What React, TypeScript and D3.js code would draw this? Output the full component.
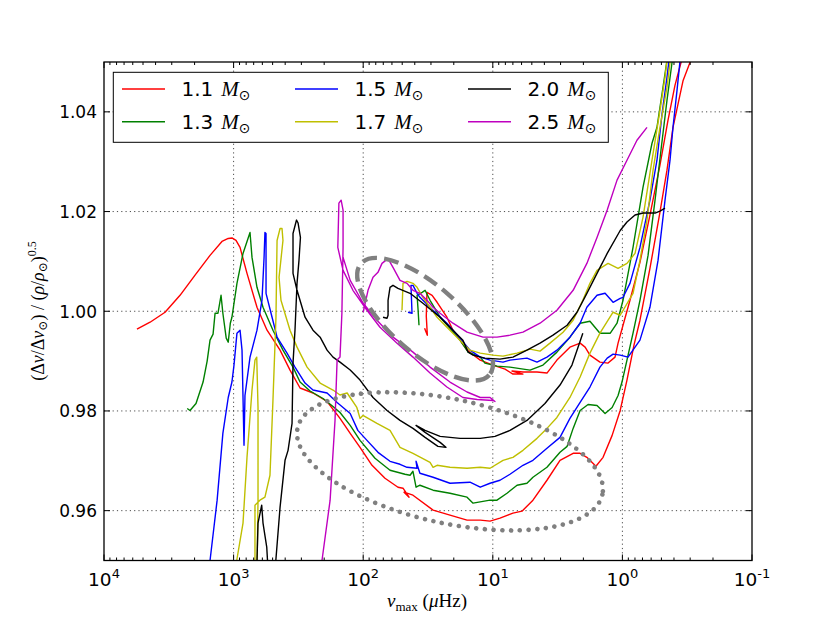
import React from 'react';
import * as d3 from 'd3';

type P = [number, number];

const masses = ['1.1', '1.3', '1.5', '1.7', '2.0', '2.5'];
const massColors = ['#ff0000', '#008000', '#0000ff', '#bfbf00', '#000000', '#bf00bf'];

// [nu_max (muHz), (dnu/dnu_sun)/(rho/rho_sun)^0.5]
const m11Rgb: P[] = [[5570,0.9964],[4410,0.9978],[3380,0.9998],[2590,1.0032],[1990,1.0072],[1520,1.0112],[1230,1.0140],[1100,1.0146],[1030,1.0147],[958,1.0142],[892,1.0128],[788,1.0076],[660,1.0008],[552,0.9962],[438,0.9922],[367,0.9882],[307,0.9846],[244,0.9836],[190,0.9819],[151,0.9785],[126,0.9755],[105.8,0.9727],[85.5,0.9691],[67.9,0.9665],[53.9,0.9647],[49.3,0.9645],[44.3,0.9627],[48.4,0.9637],[41.3,0.9631],[28.9,0.9601],[21.4,0.9591],[15.8,0.9581],[12.5,0.9581],[10.5,0.9579],[8.80,0.9585],[6.99,0.9595],[5.95,0.9599],[4.90,0.9621],[3.82,0.9661],[3.03,0.9701],[2.40,0.9715],[2.12,0.9715],[1.88,0.9707],[1.60,0.9689],[1.41,0.9707],[1.20,0.9751],[1.04,0.9801],[0.922,0.9862],[0.814,0.9932],[0.732,0.9982],[0.613,1.0086],[0.513,1.0199],[0.453,1.0283],[0.407,1.0369],[0.340,1.0463],[0.301,1.0499],[0.266,1.0523]];
const m11Clump: P[] = [[33.6,0.9966],[32.0,0.9952],[32.6,0.9990],[32.2,1.0038],[29.4,1.0032],[26.9,1.0018],[22.6,0.9988],[20.3,0.9962],[17.9,0.9942],[15.8,0.9922],[12.5,0.9902],[9.97,0.9892],[8.05,0.9884],[6.99,0.9874],[5.85,0.9874],[7.11,0.9880],[5.85,0.9878],[4.56,0.9878],[3.82,0.9876],[3.20,0.9902],[2.54,0.9928],[2.12,0.9936],[1.94,0.9928],[1.78,0.9912],[1.49,0.9898],[1.29,0.9896],[1.14,0.9908],[1.08,0.9936],[0.989,0.9972],[0.874,1.0022],[0.732,1.0098],[0.613,1.0193],[0.513,1.0293],[0.445,1.0383],[0.393,1.0453],[0.353,1.0499],[0.323,1.0527]];

const m13Rgb: P[] = [[2280,0.9805],[2170,0.9801],[1950,0.9815],[1720,0.9858],[1600,0.9900],[1520,0.9942],[1440,0.9954],[1390,0.9996],[1320,0.9996],[1250,1.0032],[1210,0.9996],[1140,0.9946],[1100,0.9938],[1060,0.9976],[1030,0.9988],[942,1.0056],[846,1.0116],[747,1.0158],[721,1.0108],[660,1.0048],[593,1.0008],[497,0.9962],[416,0.9922],[348,0.9888],[307,0.9858],[257,0.9840],[204,0.9825],[171,0.9809],[151,0.9797],[126,0.9771],[105.8,0.9741],[81.1,0.9705],[62.1,0.9681],[47.6,0.9673],[43.5,0.9671],[41.3,0.9679],[39.1,0.9647],[36.5,0.9651],[28.9,0.9641],[21.4,0.9635],[15.8,0.9627],[14.2,0.9615],[10.5,0.9621],[9.28,0.9621],[7.77,0.9635],[6.50,0.9651],[5.45,0.9655],[4.90,0.9667],[3.82,0.9687],[3.03,0.9717],[2.67,0.9729],[2.40,0.9765],[2.12,0.9801],[1.84,0.9813],[1.57,0.9811],[1.36,0.9795],[1.20,0.9807],[1.08,0.9831],[1.007,0.9858],[0.922,0.9902],[0.828,0.9956],[0.732,1.0022],[0.634,1.0112],[0.560,1.0223],[0.504,1.0323],[0.453,1.0423],[0.414,1.0499],[0.400,1.0528]];
const m13Clump: P[] = [[37.1,0.9972],[37.7,1.0002],[38.4,1.0032],[35.1,1.0038],[33.3,1.0042],[30.5,1.0022],[25.5,0.9988],[21.4,0.9966],[17.9,0.9942],[15.5,0.9918],[12.5,0.9908],[11.5,0.9896],[9.28,0.9890],[7.37,0.9888],[5.16,0.9882],[4.10,0.9892],[3.20,0.9918],[2.54,0.9948],[2.12,0.9976],[1.78,0.9980],[1.49,0.9956],[1.24,0.9956],[1.10,0.9976],[0.989,1.0022],[0.828,1.0128],[0.693,1.0249],[0.591,1.0337],[0.541,1.0369],[0.494,1.0437],[0.453,1.0503]];

const m15Rgb: P[] = [[1550,0.9480],[1520,0.9500],[1340,0.9621],[1210,0.9755],[1100,0.9827],[1030,0.9858],[993,0.9892],[942,0.9956],[892,0.9962],[861,0.9922],[831,0.9731],[817,0.9831],[747,0.9908],[660,0.9962],[604,1.0022],[582,1.0108],[573,1.0158],[562,1.0156],[562,1.0036],[505,0.9988],[462,0.9948],[387,0.9916],[336,0.9888],[281,0.9856],[244,0.9842],[190,0.9836],[159,0.9817],[126,0.9795],[110,0.9761],[93.5,0.9741],[76.9,0.9717],[62.1,0.9699],[52.0,0.9693],[45.9,0.9687],[38.4,0.9685],[39.1,0.9699],[36.5,0.9675],[28.9,0.9667],[21.4,0.9655],[15.0,0.9657],[12.5,0.9647],[10.5,0.9655],[8.80,0.9661],[7.37,0.9673],[5.85,0.9691],[4.90,0.9701],[3.82,0.9725],[3.03,0.9747],[2.54,0.9785],[2.12,0.9817],[1.78,0.9848],[1.49,0.9888],[1.31,0.9906],[1.18,0.9914],[1.04,0.9912],[0.905,0.9908],[0.732,0.9942],[0.613,1.0008],[0.531,1.0102],[0.469,1.0223],[0.429,1.0303],[0.407,1.0369],[0.379,1.0443],[0.359,1.0503]];
const m15Clump: P[] = [[45.1,0.9998],[42.0,0.9996],[42.8,1.0052],[41.3,1.0052],[38.4,1.0036],[36.5,1.0028],[28.9,1.0002],[22.6,0.9976],[17.9,0.9946],[15.0,0.9922],[12.5,0.9908],[10.5,0.9902],[8.34,0.9898],[7.37,0.9902],[5.45,0.9906],[4.56,0.9898],[3.82,0.9908],[3.20,0.9922],[2.54,0.9948],[2.12,0.9976],[1.88,1.0008],[1.57,1.0032],[1.36,1.0036],[1.18,1.0018],[1.04,1.0026],[0.989,1.0028],[0.874,1.0056],[0.732,1.0128],[0.613,1.0223],[0.541,1.0303],[0.494,1.0397],[0.453,1.0469],[0.437,1.0503]];

const m17Rgb: P[] = [[975,0.9480],[946,0.9500],[846,0.9575],[788,0.9707],[721,0.9842],[684,0.9902],[663,0.9908],[648,0.9807],[648,0.9621],[660,0.9480],[684,0.9480],[684,0.9611],[626,0.9621],[573,0.9627],[524,0.9671],[497,0.9821],[471,0.9988],[462,1.0142],[438,1.0166],[423,1.0166],[416,1.0142],[446,1.0068],[431,1.0022],[367,0.9962],[324,0.9928],[271,0.9888],[215,0.9856],[171,0.9842],[151,0.9832],[133,0.9836],[112,0.9807],[105.8,0.9785],[100.5,0.9791],[78.3,0.9775],[62.1,0.9761],[52.0,0.9727],[41.3,0.9715],[30.5,0.9697],[28.9,0.9687],[26.9,0.9691],[21.4,0.9687],[15.8,0.9685],[12.5,0.9687],[10.5,0.9685],[8.34,0.9701],[6.99,0.9707],[5.85,0.9721],[4.56,0.9745],[3.82,0.9765],[3.20,0.9787],[2.54,0.9827],[2.12,0.9868],[1.78,0.9916],[1.49,0.9956],[1.29,0.9982],[1.18,0.9998],[1.04,0.9992],[0.828,1.0036],[0.732,1.0102],[0.646,1.0183],[0.580,1.0283],[0.513,1.0369],[0.453,1.0449],[0.429,1.0499],[0.410,1.0530]];
const m17Clump: P[] = [[50.2,1.0002],[49.3,1.0056],[45.9,1.0060],[43.5,1.0058],[41.3,1.0056],[38.4,1.0048],[34.6,1.0028],[30.5,1.0008],[26.9,0.9988],[22.6,0.9968],[18.9,0.9948],[17.0,0.9936],[15.0,0.9922],[12.5,0.9916],[9.97,0.9912],[8.34,0.9910],[6.50,0.9916],[5.16,0.9924],[4.32,0.9920],[3.62,0.9936],[2.87,0.9958],[2.40,0.9982],[2.02,1.0022],[1.78,1.0056],[1.57,1.0082],[1.29,1.0096],[1.08,1.0086],[0.922,1.0096],[0.799,1.0116],[0.693,1.0189],[0.591,1.0303],[0.513,1.0403],[0.469,1.0469],[0.453,1.0503]];

const m20Rgb: P[] = [[663,0.9480],[648,0.9575],[607,0.9611],[593,0.9575],[555,0.9527],[542,0.9480],[479,0.9480],[438,0.9607],[401,0.9701],[380,0.9721],[354,0.9775],[348,0.9896],[336,0.9962],[324,1.0056],[313,1.0102],[305,1.0148],[318,1.0177],[327,1.0183],[348,1.0156],[348,1.0076],[324,1.0042],[281,0.9988],[244,0.9962],[215,0.9948],[190,0.9922],[171,0.9908],[151,0.9898],[126,0.9882],[105.8,0.9862],[84.0,0.9827],[65.5,0.9801],[52.0,0.9781],[41.3,0.9765],[33.3,0.9747],[26.5,0.9729],[23.0,0.9727],[25.5,0.9737],[33.3,0.9757],[39.1,0.9771],[33.3,0.9761],[25.5,0.9749],[17.9,0.9745],[12.5,0.9745],[9.62,0.9749],[7.37,0.9761],[5.45,0.9781],[3.96,0.9815],[3.03,0.9852],[2.45,0.9892],[2.02,0.9956]];
const m20Clump: P[] = [[70.3,0.9988],[65.5,0.9986],[64.3,0.9992],[64.3,1.0022],[62.1,1.0048],[58.9,1.0052],[53.9,1.0046],[43.5,1.0036],[34.6,1.0016],[25.5,0.9988],[20.3,0.9962],[17.0,0.9942],[15.5,0.9918],[14.2,0.9912],[11.5,0.9906],[8.80,0.9904],[6.99,0.9908],[5.45,0.9922],[4.32,0.9936],[3.43,0.9952],[2.67,0.9972],[2.24,0.9998],[1.88,1.0036],[1.57,1.0076],[1.31,1.0116],[1.04,1.0162],[0.922,1.0179],[0.799,1.0193],[0.693,1.0197],[0.613,1.0197],[0.560,1.0197],[0.513,1.0201],[0.469,1.0207]];

const m25Rgb: P[] = [[215,0.9480],[208,0.9500],[180,0.9621],[165,0.9781],[159,0.9902],[151,0.9908],[146,0.9996],[143,1.0128],[143,1.0203],[148,1.0223],[154,1.0217],[157,1.0128],[143,1.0082],[120,1.0042],[93.5,1.0002],[74.2,0.9968],[54.8,0.9936],[41.3,0.9908],[30.5,0.9876],[22.6,0.9848],[17.0,0.9827],[13.2,0.9823],[9.97,0.9821],[9.62,0.9819],[10.5,0.9827],[12.5,0.9827],[15.8,0.9838],[21.4,0.9858],[30.5,0.9888],[41.3,0.9918],[58.9,0.9948],[78.3,0.9982],[100,1.0016],[126,1.0062],[143,1.0108]];
const m25Clump: P[] = [[100,0.9998],[91.8,1.0042],[84.0,1.0068],[76.9,1.0078],[71.6,1.0096],[65.5,1.0104],[63.2,1.0102],[58.9,1.0088],[52.0,1.0062],[45.9,1.0056],[41.3,1.0042],[36.5,1.0036],[32.2,1.0022],[28.9,1.0008],[25.5,0.9996],[20.3,0.9976],[15.8,0.9958],[11.9,0.9948],[9.28,0.9948],[7.37,0.9952],[5.85,0.9958],[4.32,0.9976],[3.20,1.0002],[2.40,1.0042],[1.88,1.0096],[1.57,1.0148],[1.31,1.0203],[1.10,1.0263],[0.922,1.0303],[0.772,1.0343],[0.646,1.0369]];

const xTickValues = [1e4, 1e3, 1e2, 1e1, 1e0, 1e-1];
const xTickExponents = ['4', '3', '2', '1', '0', '-1'];
const yTickValues = [0.96, 0.98, 1.0, 1.02, 1.04];
const yTickLabels = ['0.96', '0.98', '1.00', '1.02', '1.04'];

// annotation ellipse centres (data coordinates)
const clumpEllipseCenter: P = [33.3, 0.9984];
const rgbEllipseCenter: P = [21.4, 0.9699];

const SANS = '"DejaVu Sans", sans-serif';
const SERIF = '"Liberation Serif", "DejaVu Serif", serif';

export default function App() {
  const L = 104, R = 752, T = 62, B = 560.5;
  const x = d3.scaleLog().domain([1e4, 1e-1]).range([L, R]);
  const y = d3.scaleLinear().domain([0.95, 1.05]).range([B, T]);
  const line = d3.line<P>().x(d => x(d[0])).y(d => y(d[1]));

  const tracks: P[][][] = [
    [m11Rgb, m11Clump],
    [m13Rgb, m13Clump],
    [m15Rgb, m15Clump],
    [m17Rgb, m17Clump],
    [m20Rgb, m20Clump],
    [m25Rgb, m25Clump],
  ];

  const minor: number[] = [];
  for (let e = -1; e <= 3; e++) for (let k = 2; k <= 9; k++) minor.push(k * Math.pow(10, e));

  const ce = [x(clumpEllipseCenter[0]), y(clumpEllipseCenter[1])];
  const re = [x(rgbEllipseCenter[0]), y(rgbEllipseCenter[1])];

  const legendCols = [[0, 1], [2, 3], [4, 5]];
  const colX = [122, 295, 468];
  const rowY = [89, 121.7];

  return (
    <div style={{ position: 'absolute', left: 0, top: 0, width: 830, height: 623, background: '#fff' }}>
      <svg width={830} height={623} viewBox="0 0 830 623">
        <defs>
          <clipPath id="plotClip">
            <rect x={L} y={T} width={R - L} height={B - T} />
          </clipPath>
        </defs>
        <rect x={0} y={0} width={830} height={623} fill="#fff" />
        {/* grid */}
        <g stroke="#000" strokeWidth={0.7} strokeDasharray="1.2 3.1" fill="none">
          {xTickValues.slice(1, -1).map((v, i) => (
            <line key={'gx' + i} x1={x(v)} x2={x(v)} y1={T} y2={B} />
          ))}
          {yTickValues.map((v, i) => (
            <line key={'gy' + i} x1={L} x2={R} y1={y(v)} y2={y(v)} />
          ))}
        </g>
        {/* tracks */}
        <g clipPath="url(#plotClip)" fill="none" strokeWidth={1.4} strokeLinejoin="round">
          {tracks.map((segs, i) =>
            segs.map((s, j) => (
              <path key={i + '-' + j} d={line(s) || ''} stroke={massColors[i]} />
            ))
          )}
          <ellipse cx={ce[0]} cy={ce[1]} rx={85} ry={34} transform={`rotate(41 ${ce[0]} ${ce[1]})`}
            stroke="#808080" strokeWidth={4.4} strokeDasharray="15 7" fill="none" />
          <ellipse cx={re[0]} cy={re[1]} rx={156} ry={62} transform={`rotate(12.3 ${re[0]} ${re[1]})`}
            stroke="#808080" strokeWidth={4.6} strokeDasharray="0 8.7" strokeLinecap="round" fill="none" />
        </g>
        {/* ticks */}
        <g stroke="#000" strokeWidth={1}>
          {xTickValues.map((v, i) => (
            <g key={'xt' + i}>
              <line x1={x(v)} x2={x(v)} y1={B} y2={B - 6} />
              <line x1={x(v)} x2={x(v)} y1={T} y2={T + 6} />
            </g>
          ))}
          {minor.map((v, i) => (
            <g key={'xm' + i}>
              <line x1={x(v)} x2={x(v)} y1={B} y2={B - 3} />
              <line x1={x(v)} x2={x(v)} y1={T} y2={T + 3} />
            </g>
          ))}
          {yTickValues.map((v, i) => (
            <g key={'yt' + i}>
              <line x1={L} x2={L + 6} y1={y(v)} y2={y(v)} />
              <line x1={R} x2={R - 6} y1={y(v)} y2={y(v)} />
            </g>
          ))}
        </g>
        {/* frame */}
        <rect x={L} y={T} width={R - L} height={B - T} fill="none" stroke="#000" strokeWidth={1.3} />
        {/* tick labels */}
        <g fontFamily={SANS} fill="#000">
          {yTickValues.map((v, i) => (
            <text key={'yl' + i} x={L - 7} y={y(v) + 6.3} textAnchor="end" fontSize={17}>{yTickLabels[i]}</text>
          ))}
          {xTickValues.map((v, i) => (
            <text key={'xl' + i} x={x(v)} y={586} textAnchor="middle" fontSize={18.5}>
              10<tspan fontSize={13} dy={-8}>{xTickExponents[i]}</tspan>
            </text>
          ))}
        </g>
        {/* axis labels */}
        <text x={427} y={607} textAnchor="middle" fontFamily={SERIF} fontSize={19} fill="#000">
          <tspan fontStyle="italic">ν</tspan>
          <tspan fontSize={13} dy={4}>max</tspan>
          <tspan dy={-4}> (</tspan>
          <tspan fontStyle="italic">μ</tspan>
          <tspan>Hz)</tspan>
        </text>
        <text x={44} y={311} textAnchor="middle" transform="rotate(-90 44 311)" fontFamily={SERIF} fontSize={18} fill="#000">
          <tspan>(Δ</tspan>
          <tspan fontStyle="italic">ν</tspan>
          <tspan>/Δ</tspan>
          <tspan fontStyle="italic">ν</tspan>
          <tspan fontSize={12} dy={3}>⊙</tspan>
          <tspan dy={-3}>) / (</tspan>
          <tspan fontStyle="italic">ρ</tspan>
          <tspan>/</tspan>
          <tspan fontStyle="italic">ρ</tspan>
          <tspan fontSize={12} dy={3}>⊙</tspan>
          <tspan dy={-3}>)</tspan>
          <tspan fontSize={12} dy={-8}>0.5</tspan>
        </text>
        {/* legend */}
        <g>
          <rect x={113.3} y={72.3} width={495} height={70} fill="#fff" stroke="#000" strokeWidth={1} />
          {legendCols.map((col, ci) =>
            col.map((mi, ri) => (
              <g key={'lg' + mi}>
                <line x1={colX[ci]} x2={colX[ci] + 43} y1={rowY[ri]} y2={rowY[ri]} stroke={massColors[mi]} strokeWidth={1.4} />
                <text x={colX[ci] + 59.5} y={rowY[ri] + 7} fontFamily={SANS} fontSize={20} fill="#000">
                  {masses[mi]}
                  <tspan dx={8} fontFamily={SERIF} fontStyle="italic" fontSize={21}>M</tspan>
                  <tspan fontFamily={SANS} fontSize={14} dy={4}>⊙</tspan>
                </text>
              </g>
            ))
          )}
        </g>
      </svg>
    </div>
  );
}
